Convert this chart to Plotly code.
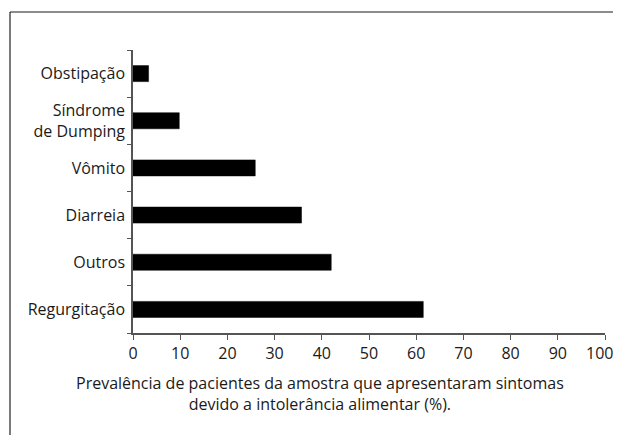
import plotly.graph_objects as go

categorias = ["Regurgitação", "Outros", "Diarreia", "Vômito", "Síndrome<br>de Dumping", "Obstipação"]
valores = [61.5, 42.0, 35.7, 25.9, 9.8, 3.3]
x_ticks = [0, 10, 20, 30, 40, 50, 60, 70, 80, 90, 100]
titulo_x = "Prevalência de pacientes da amostra que apresentaram sintomas<br>devido a intolerância alimentar (%)."

# the page body adds an 8px margin, so the figure is drawn smaller to avoid scrollbars
OFF = 8
W, H = 621 - OFF, 443 - 2 * OFF
L, T = 133 - OFF, 50 - OFF
pw, ph = 472, 283
R = W - L - pw
B = H - T - ph

FONT = "Open Sans, sans-serif"
AX = "#555555"
FS = 16

# last tick label is drawn as an annotation nudged left so it is not cut at the page edge
tick_text = [str(v) for v in x_ticks[:-1]] + [""]

fig = go.Figure(go.Bar(
    x=valores, y=categorias, orientation="h",
    marker=dict(color="black", line=dict(color="black", width=0.5)),
    width=0.34,
))

fig.update_layout(
    width=W, height=H,
    margin=dict(l=L, r=R, t=T, b=B, autoexpand=False),
    paper_bgcolor="white", plot_bgcolor="white",
    font=dict(family=FONT, size=FS, color="#1a1a1a"),
    showlegend=False,
    xaxis=dict(
        range=[0, 100], tickvals=x_ticks, ticktext=tick_text,
        showgrid=False, zeroline=False, showline=True, linecolor=AX, linewidth=1.5,
        ticks="outside", ticklen=5, tickcolor=AX, tickwidth=1.2,
        tickfont=dict(size=FS), automargin=False,
    ),
    yaxis=dict(
        type="category", categoryorder="array", categoryarray=categorias,
        range=[-0.5, 5.5],
        showgrid=False, zeroline=False, showline=True, linecolor=AX, linewidth=1.5,
        ticks="outside", ticklen=4, tickcolor=AX, tickwidth=1.2, tickson="boundaries",
        tickfont=dict(size=FS), ticklabelstandoff=3, automargin=False,
    ),
    annotations=[
        dict(
            text=titulo_x, xref="paper", yref="paper",
            x=(320 - 133) / pw, y=(ph - (393 - 50)) / ph,
            showarrow=False, xanchor="center", yanchor="middle",
            font=dict(size=FS), align="center",
        ),
        dict(
            text=str(x_ticks[-1]), xref="x", yref="paper",
            x=x_ticks[-1], y=0, yshift=-8, xshift=-6,
            showarrow=False, xanchor="center", yanchor="top",
            font=dict(size=FS), borderpad=0,
        ),
    ],
    shapes=[
        dict(type="line", xref="paper", yref="paper",
             x0=(10 - 133) / pw, x1=(621 - 133) / pw,
             y0=(ph + 50 - 12) / ph, y1=(ph + 50 - 12) / ph,
             line=dict(color="#666666", width=1.5)),
        dict(type="line", xref="paper", yref="paper",
             x0=(10 - 133) / pw, x1=(10 - 133) / pw,
             y0=(ph + 50 - 12) / ph, y1=-(B + 5) / ph,
             line=dict(color="#222222", width=1.2)),
    ],
)

fig.write_html("out.html")
